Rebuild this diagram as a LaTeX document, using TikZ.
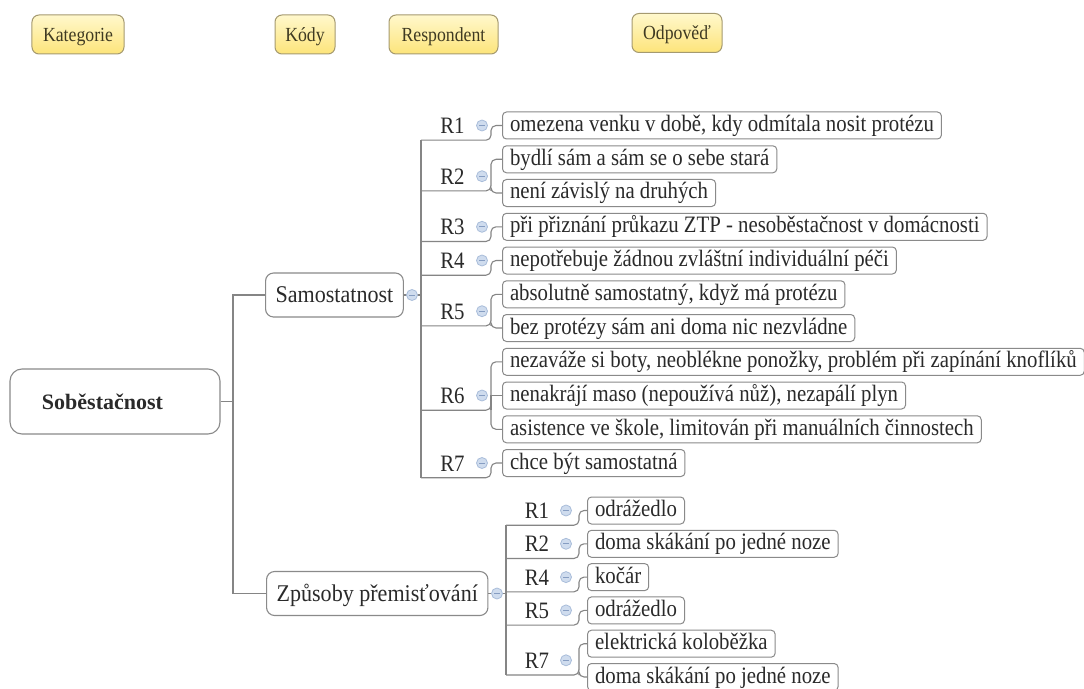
\documentclass[tikz,border=0pt]{standalone}
\usepackage{fontspec}
\setmainfont{Liberation Serif}
\newfontfamily\mapfont[FakeStretch=0.885]{Liberation Serif}
\newfontfamily\topicfont[FakeStretch=0.92]{Liberation Serif}
\newfontfamily\hdrfont[FakeStretch=0.887]{Liberation Serif}
\usetikzlibrary{backgrounds}

\definecolor{linegray}{HTML}{858585}
\definecolor{boxgray}{HTML}{8A8A8A}
\definecolor{txt}{HTML}{2A2A2A}
\definecolor{hdrtop}{HTML}{FFF8CC}
\definecolor{hdrbottom}{HTML}{FDE47A}
\definecolor{hdrborder}{HTML}{A59A70}
\definecolor{hdrtext}{HTML}{3F3A22}
\definecolor{foldfill}{HTML}{CFDCEE}
\definecolor{foldedge}{HTML}{A9BDDA}
\definecolor{foldmark}{HTML}{869DC2}

\begin{document}
\begin{tikzpicture}[x=1bp,y=-1bp,
  conn/.style={draw=linegray, line width=1.1bp},
  elbow/.style={conn, rounded corners=5bp},
  hdr/.style={draw=hdrborder, rounded corners=7bp, top color=hdrtop, bottom color=hdrbottom,
    line width=1bp, text=hdrtext, font=\hdrfont\fontsize{20bp}{22bp}\selectfont,
    minimum height=39bp, inner sep=0pt, text height=15bp, text depth=1bp},
  rootbox/.style={draw=boxgray, fill=white, rounded corners=12bp, line width=1.1bp,
    minimum height=65bp, text width=146bp, align=left, inner xsep=32bp,
    text height=18bp, text depth=2.5bp,
    font=\bfseries\fontsize{22bp}{26bp}\selectfont, text=txt},
  topic/.style={draw=boxgray, fill=white, rounded corners=8bp, line width=1.1bp, anchor=west,
    inner xsep=10bp, inner ysep=0pt, minimum height=44bp, text height=18bp, text depth=2.5bp,
    font=\topicfont\fontsize{24bp}{28bp}\selectfont, text=txt},
  ans/.style={draw=boxgray, fill=white, rounded corners=4bp, line width=1bp, anchor=west,
    inner xsep=7.5bp, inner ysep=0pt, minimum height=27bp, text height=15bp, text depth=3bp,
    font=\mapfont\fontsize{23.5bp}{26bp}\selectfont, text=txt},
  resp/.style={inner sep=0pt, minimum height=29bp, text height=16bp, text depth=0bp,
    font=\mapfont\fontsize{23.5bp}{26bp}\selectfont, text=txt},
  fold/.style={circle, draw=foldedge, fill=foldfill, line width=0.8bp, minimum size=11bp, inner sep=0pt,
    path picture={\draw[foldmark, line width=1bp]
      ([xshift=-2.8bp]path picture bounding box.center) -- ([xshift=2.8bp]path picture bounding box.center);}},
]
\useasboundingbox (0,0) rectangle (1084,689);

% column headings
\node[hdr, minimum width=92bp] (hkat) at (78,34.5) {Kategorie};
\node[hdr, minimum width=60bp] (hkod) at (305,34.5) {Kódy};
\node[hdr, minimum width=109bp] (hres) at (443.5,34.5) {Respondent};
\node[hdr, minimum width=90bp] (hodp) at (677,33) {Odpověď};

% main topic and categories
\node[rootbox] (root) at (115,401.5) {Soběstačnost};
\node[topic] (samo) at (265,295) {Samostatnost};
\node[topic] (zpus) at (266,593.5) {Způsoby přemisťování};

% answers: Samostatnost
\node[ans] (a1) at (502,125.5) {omezena venku v době, kdy odmítala nosit protézu};
\node[ans] (a2) at (502,159.3) {bydlí sám a sám se o sebe stará};
\node[ans] (a3) at (502,193) {není závislý na druhých};
\node[ans] (a4) at (502,226.8) {při přiznání průkazu ZTP - nesoběstačnost v domácnosti};
\node[ans] (a5) at (502,260.5) {nepotřebuje žádnou zvláštní individuální péči};
\node[ans] (a6) at (502,294.3) {absolutně samostatný, když má protézu};
\node[ans] (a7) at (502,328) {bez protézy sám ani doma nic nezvládne};
\node[ans] (a8) at (502,361.8) {nezaváže si boty, neoblékne ponožky, problém při zapínání knoflíků};
\node[ans] (a9) at (502,395.5) {nenakrájí maso (nepoužívá nůž), nezapálí plyn};
\node[ans] (a10) at (502,429.3) {asistence ve škole, limitován při manuálních činnostech};
\node[ans] (a11) at (502,463) {chce být samostatná};

% respondents: Samostatnost
\node[resp] (s1) at (452.5,125.5) {R1};
\node[resp] (s2) at (452.5,176.2) {R2};
\node[resp] (s3) at (452.5,226.8) {R3};
\node[resp] (s4) at (452.5,260.5) {R4};
\node[resp] (s5) at (452.5,311.2) {R5};
\node[resp] (s6) at (452.5,395.5) {R6};
\node[resp] (s7) at (452.5,463) {R7};

% answers: Způsoby přemisťování
\node[ans] (b1) at (587,510.5) {odrážedlo};
\node[ans] (b2) at (587,543.8) {doma skákání po jedné noze};
\node[ans] (b3) at (587,577.1) {kočár};
\node[ans] (b4) at (587,610.4) {odrážedlo};
\node[ans] (b5) at (587,643.7) {elektrická koloběžka};
\node[ans] (b6) at (587,677) {doma skákání po jedné noze};

% respondents: Způsoby přemisťování
\node[resp] (z1) at (537,510.5) {R1};
\node[resp] (z2) at (537,543.8) {R2};
\node[resp] (z4) at (537,577.1) {R4};
\node[resp] (z5) at (537,610.4) {R5};
\node[resp] (z7) at (537,660.3) {R7};

% collapse markers
\node[fold] (fsamo) at (412,295) {};
\node[fold] (fzpus) at (497,593.5) {};
\foreach \n/\y in {1/125.5,2/176.2,3/226.8,4/260.5,5/311.2,6/395.5,7/463}
  \node[fold] (fs\n) at (482,\y) {};
\foreach \n/\y in {1/510.5,2/543.8,4/577.1,5/610.4,7/660.3}
  \node[fold] (fz\n) at (566,\y) {};

% junction points
\coordinate (mf) at (233,401.5);
\coordinate (ts) at (421,295);
\coordinate (xs) at (491,0);
\coordinate (tz) at (506,593.5);
\coordinate (xz) at (579,0);

\begin{scope}[on background layer]
  \fill[white] (0,0) rectangle (1084,689);
  % main branches
  \draw[conn] (root.east) -- (mf);
  \draw[conn] (samo.west) -| (mf);
  \draw[conn] (zpus.west) -| (mf);

  % Samostatnost trunk
  \draw[conn] (samo.east) -- (ts);
  \draw[conn] (ts |- s1.south) -- (ts |- s7.south);
  \draw[elbow] (ts |- s1.south) -- (s1.south -| xs) |- (a1.west);
  \draw[elbow] (ts |- s2.south) -- (s2.south -| xs) |- (a2.west);
  \draw[elbow] (s2.south -| xs) |- (a3.west);
  \draw[elbow] (ts |- s3.south) -- (s3.south -| xs) |- (a4.west);
  \draw[elbow] (ts |- s4.south) -- (s4.south -| xs) |- (a5.west);
  \draw[elbow] (ts |- s5.south) -- (s5.south -| xs) |- (a6.west);
  \draw[elbow] (s5.south -| xs) |- (a7.west);
  \draw[elbow] (ts |- s6.south) -- (s6.south -| xs) |- (a8.west);
  \draw[conn] (s6.south -| xs) |- (a9.west);
  \draw[elbow] (s6.south -| xs) |- (a10.west);
  \draw[elbow] (ts |- s7.south) -- (s7.south -| xs) |- (a11.west);

  % Způsoby přemisťování trunk
  \draw[conn] (zpus.east) -- (tz);
  \draw[conn] (tz |- z1.south) -- (tz |- z7.south);
  \draw[elbow] (tz |- z1.south) -- (z1.south -| xz) |- (b1.west);
  \draw[elbow] (tz |- z2.south) -- (z2.south -| xz) |- (b2.west);
  \draw[elbow] (tz |- z4.south) -- (z4.south -| xz) |- (b3.west);
  \draw[elbow] (tz |- z5.south) -- (z5.south -| xz) |- (b4.west);
  \draw[elbow] (tz |- z7.south) -- (z7.south -| xz) |- (b5.west);
  \draw[elbow] (z7.south -| xz) |- (b6.west);
\end{scope}
\end{tikzpicture}
\end{document}
